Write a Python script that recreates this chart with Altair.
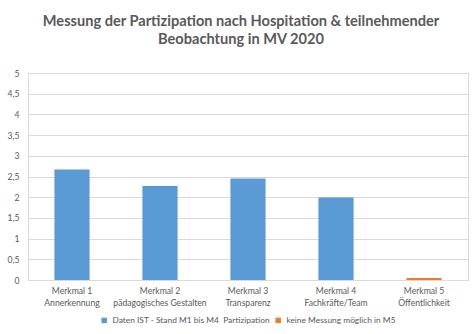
import altair as alt
import pandas as pd

categories = ["Merkmal 1\nAnnerkennung", "Merkmal 2\npädagogisches Gestalten", "Merkmal 3\nTransparenz",
              "Merkmal 4\nFachkräfte/Team", "Merkmal 5\nÖffentlichkeit"]
values = [2.67, 2.27, 2.45, 1.99, 0.05]
series_names = ["Daten IST - Stand M1 bis M4\u00a0 Partizipation", "keine Messung möglich in M5"]
series = [series_names[0]] * 4 + [series_names[1]]
series_colors = ["#5B9BD5", "#ED7D31"]
y_ticks = [0, 0.5, 1, 1.5, 2, 2.5, 3, 3.5, 4, 4.5, 5]

df = pd.DataFrame({"cat": categories, "val": values, "series": series})

FONT = "Lato"
GRAY = "#595959"

chart = alt.Chart(df).mark_bar().encode(
    x=alt.X("cat:N", sort=categories, title=None,
            scale=alt.Scale(paddingInner=0.6, paddingOuter=0.3),
            axis=alt.Axis(labelAngle=0, labelExpr="split(datum.label, '\\n')", ticks=False,
                          domainColor="#D9D9D9", labelColor=GRAY, labelFontSize=8.6,
                          labelPadding=6, labelLineHeight=12, labelFont=FONT)),
    y=alt.Y("val:Q", title=None, scale=alt.Scale(domain=[0, 5]),
            axis=alt.Axis(values=y_ticks, labelExpr="replace(toString(datum.value), '.', ',')",
                          ticks=False, domain=False, gridColor="#D9D9D9", labelColor=GRAY,
                          labelFontSize=8.6, labelPadding=9, labelFont=FONT)),
    color=alt.Color("series:N", scale=alt.Scale(domain=series_names, range=series_colors),
                    legend=alt.Legend(title=None, orient="none", legendX=72, legendY=243,
                                      direction="horizontal", symbolType="square", symbolSize=30,
                                      labelFontSize=8.4, labelColor=GRAY, labelFont=FONT,
                                      columnPadding=4, labelLimit=300, labelOffset=4)),
).properties(
    width=440, height=207,
    title=alt.TitleParams(
        ["Messung der Partizipation nach Hospitation & teilnehmender", "Beobachtung in MV 2020"],
        font=FONT, fontSize=14.6, fontWeight="bold", color=GRAY, anchor="middle",
        offset=22, lineHeight=18, dx=-7),
    autosize=alt.AutoSizeParams(type="none"),
    padding={"left": 28, "top": 73, "right": 6, "bottom": 54},
).configure_view(stroke=None).configure(background="white")

chart.save("out.html", embed_options={"renderer": "svg", "actions": False})
